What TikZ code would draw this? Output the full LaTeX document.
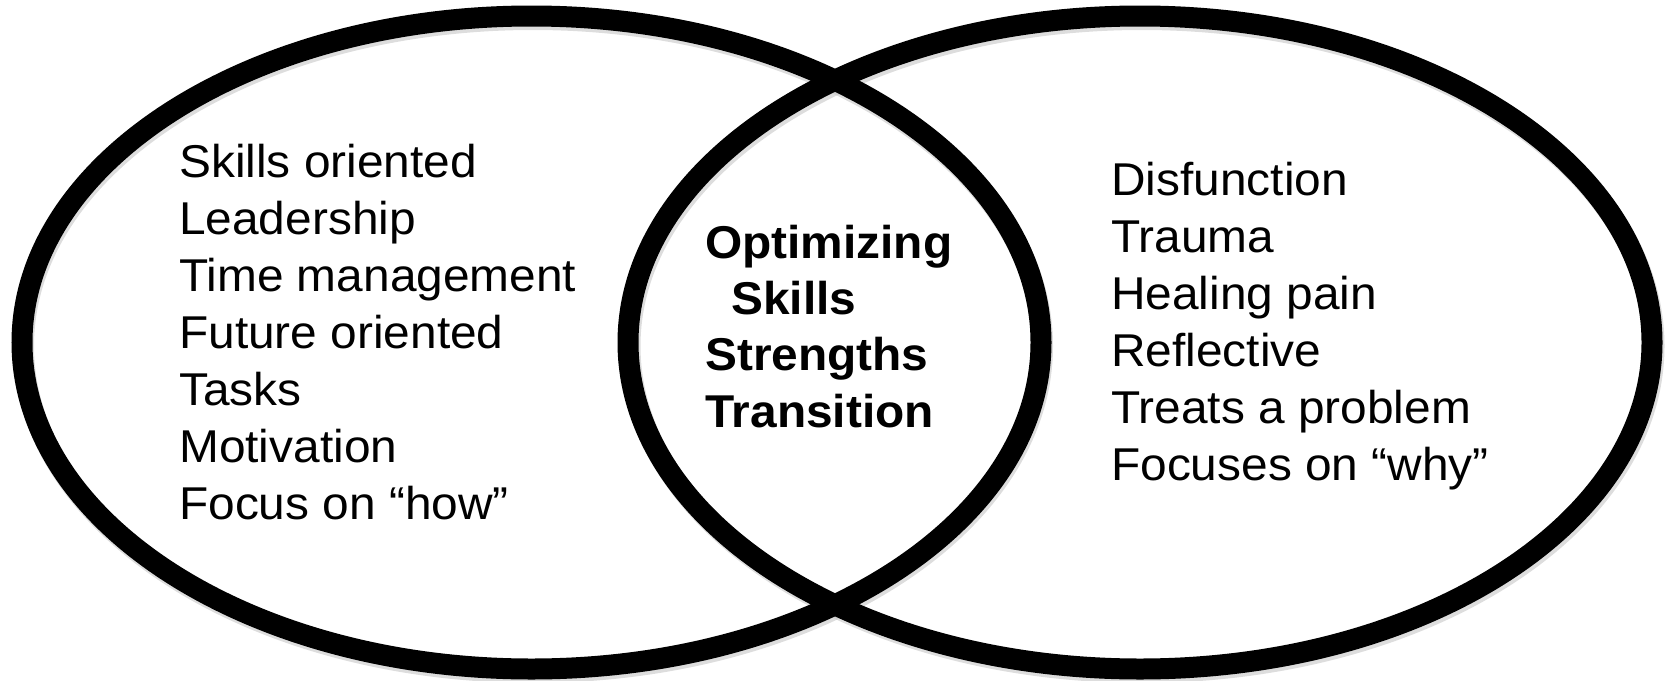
\documentclass[tikz,border=0pt]{standalone}
\usepackage{fontspec}
\setmainfont{Liberation Sans}[FakeStretch=1.04]
\begin{document}
\begin{tikzpicture}[x=1pt,y=-1pt,
  ring/.style={draw=black,line width=21pt},
  ringshadow/.style={draw=black!22,line width=21pt,opacity=0.6},
  item/.style={anchor=base west,inner sep=0pt,font=\fontsize{46}{57}\selectfont},
  core/.style={item,font=\fontsize{46}{57}\selectfont\bfseries}]
\useasboundingbox (0,0) rectangle (1665,680);

% soft drop shadows under both rings
\draw[ringshadow] (533,346) ellipse [x radius=509.5,y radius=326.5];
\draw[ringshadow] (1142,346) ellipse [x radius=512,y radius=326.5];

% the two overlapping rings
\draw[ring] (531.5,342.5) ellipse [x radius=509.5,y radius=326.5];
\draw[ring] (1140,342.5) ellipse [x radius=512,y radius=326.5];

% left set
\foreach \t [count=\i] in {Skills oriented,Leadership,Time management,Future oriented,Tasks,Motivation,Focus on “how”}
  \node[item] (left\i) at (179,{177+57*(\i-1)}) {\t};

% shared region
\node[core] (mid1) at (705,258) {Optimizing};
\node[core] (mid2) at (731,314) {Skills};
\node[core] (mid3) at (705,370) {Strengths};
\node[core] (mid4) at (705,427) {Transition};

% right set
\foreach \t [count=\i] in {Disfunction,Trauma,Healing pain,Reflective,Treats a problem,Focuses on “why”}
  \node[item] (right\i) at (1111,{195+57*(\i-1)}) {\t};
\end{tikzpicture}
\end{document}
